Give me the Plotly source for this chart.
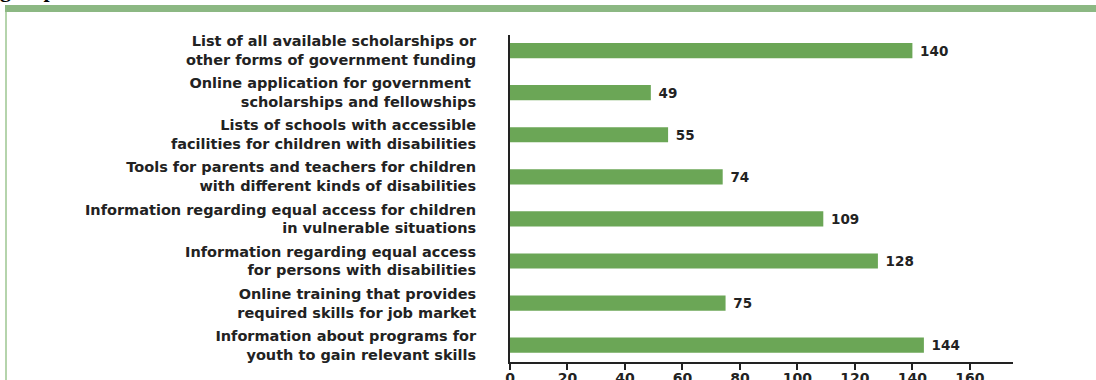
import plotly.graph_objects as go

categories = [
    "List of all available scholarships or<br>other forms of government funding",
    "Online application for government <br>scholarships and fellowships",
    "Lists of schools with accessible<br>facilities for children with disabilities",
    "Tools for parents and teachers for children<br>with different kinds of disabilities",
    "Information regarding equal access for children<br>in vulnerable situations",
    "Information regarding equal access<br>for persons with disabilities",
    "Online training that provides<br>required skills for job market",
    "Information about programs for<br>youth to gain relevant skills",
]
values = [140, 49, 55, 74, 109, 128, 75, 144]
x_ticks = [0, 20, 40, 60, 80, 100, 120, 140, 160]

W, H = 1096, 380
L, R, T, B = 510, 83, 35, 18
pw, ph = W - L - R, H - T - B

def px(x):
    return (x - L) / pw

def py(y):
    return 1 - (y - T) / ph

idx = list(range(len(categories)))
FONT = "DejaVu Sans"

fig = go.Figure()
fig.add_trace(go.Bar(
    x=values, y=idx, orientation="h",
    marker=dict(color="#6ba656", line=dict(width=0)),
    width=0.36,
    text=values, texttemplate=" %{x}", textposition="outside",
    constraintext="none",
    textfont=dict(family=FONT, size=13.5, color="#222222", weight="bold"),
    cliponaxis=False,
))

fig.update_layout(
    width=W, height=H,
    margin=dict(l=L, r=R, t=T, b=B, autoexpand=False),
    paper_bgcolor="white", plot_bgcolor="white",
    showlegend=False,
    font=dict(family=FONT, color="#222222"),
    xaxis=dict(
        range=[0, 175], tickvals=x_ticks, showgrid=False, zeroline=False,
        showline=True, linecolor="#222222", linewidth=2,
        ticks="outside", ticklen=6, tickwidth=2, tickcolor="#222222",
        ticklabelstandoff=-4,
        tickfont=dict(family=FONT, size=14, color="#222222", weight="bold"),
        automargin=False,
    ),
    yaxis=dict(
        range=[7.4, -0.37], tickvals=idx, ticktext=categories,
        showgrid=False, zeroline=False,
        showline=True, linecolor="#222222", linewidth=2,
        ticks="", ticklabelstandoff=29,
        tickfont=dict(family=FONT, size=14.5, color="#222222", weight="bold"),
        automargin=False,
    ),
    shapes=[
        dict(type="rect", xref="paper", yref="paper",
             x0=px(5), x1=px(1100), y0=py(12), y1=py(5),
             fillcolor="#8cb883", line=dict(width=0), layer="above"),
        dict(type="rect", xref="paper", yref="paper",
             x0=px(5), x1=px(7), y0=py(385), y1=py(12),
             fillcolor="#b5d4ac", line=dict(width=0), layer="above"),
    ],
    annotations=[
        dict(text="<b>groups</b>", xref="paper", yref="paper",
             x=px(-2), y=py(4), xanchor="left", yanchor="bottom",
             showarrow=False, font=dict(family="Liberation Serif", size=22, color="black")),
    ],
)

fig.write_html("out.html")
